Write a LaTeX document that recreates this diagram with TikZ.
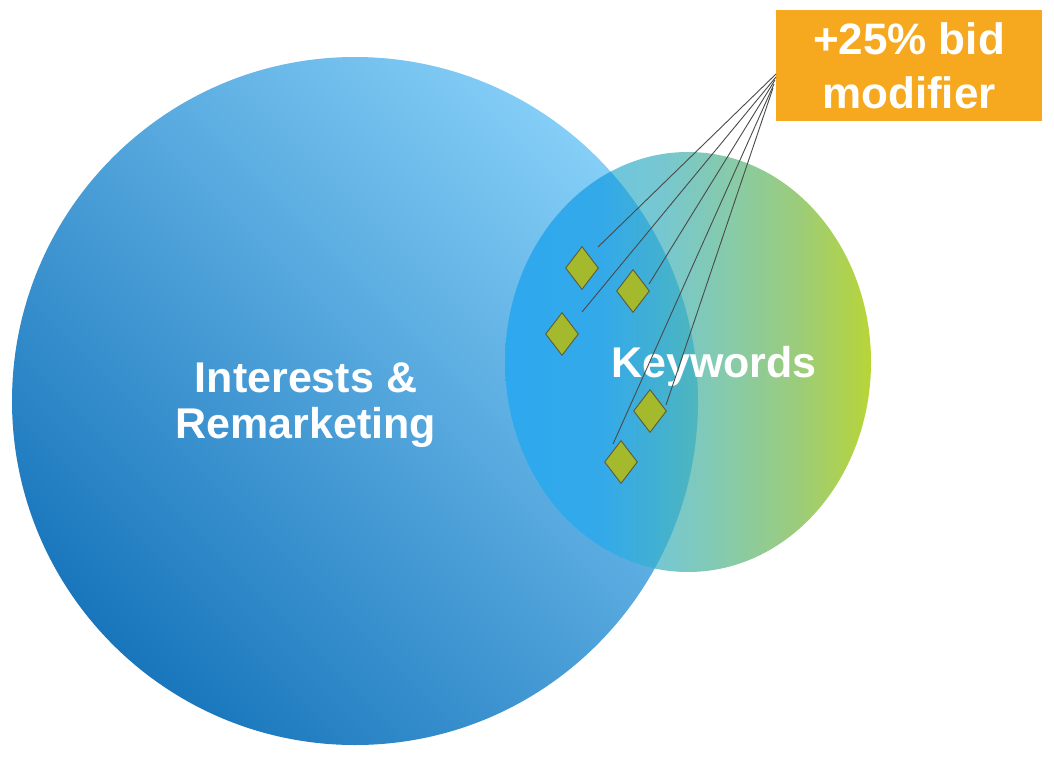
\documentclass[tikz,border=0pt]{standalone}
\usepackage{fontspec}
\setmainfont{Liberation Sans}
\usetikzlibrary{shapes.geometric}
\definecolor{bigdark}{HTML}{1976BC}
\definecolor{biglight}{HTML}{84CEF7}
\definecolor{kwa}{HTML}{70C6DC}
\definecolor{kwb}{HTML}{76C7D2}
\definecolor{kwc}{HTML}{80C9BA}
\definecolor{kwd}{HTML}{88CBA8}
\definecolor{kwe}{HTML}{9CCC7A}
\definecolor{kwf}{HTML}{B2D346}
\definecolor{kwg}{HTML}{B8D535}
\definecolor{ova}{HTML}{2EA8EE}
\definecolor{ovb}{HTML}{33A9EA}
\definecolor{ovc}{HTML}{42B0D2}
\definecolor{ovd}{HTML}{4EB6BE}
\definecolor{boxorange}{HTML}{F6A81F}
\definecolor{gem}{HTML}{A4B92C}
\definecolor{gemline}{HTML}{5B5B3B}
\definecolor{leader}{HTML}{4A4A4A}
\pgfdeclarehorizontalshading{kwshade}{100bp}{color(0bp)=(kwa); color(40bp)=(kwa); color(46bp)=(kwb); color(52bp)=(kwc); color(56bp)=(kwd); color(65bp)=(kwe); color(73bp)=(kwf); color(75bp)=(kwg); color(100bp)=(kwg)}
\pgfdeclarehorizontalshading{ovshade}{100bp}{color(0bp)=(ova); color(25bp)=(ova); color(38bp)=(ovb); color(46bp)=(ovc); color(51bp)=(ovd); color(100bp)=(ovd)}
\tikzset{
  labeltext/.style={text=white, font=\bfseries\fontsize{43}{46}\selectfont, align=center, inner sep=0pt},
  gemstone/.style={shape=diamond, draw=gemline, line width=0.9pt, fill=gem, inner sep=0pt, minimum width=33pt, minimum height=43pt},
  leaderline/.style={draw=leader, line width=0.9pt},
  bidbox/.style={fill=boxorange, text=white, font=\bfseries\fontsize{44}{54}\selectfont, align=center, minimum width=266pt, minimum height=111pt, inner sep=0pt}
}
\begin{document}
\begin{tikzpicture}[x=1pt,y=-1pt]
\useasboundingbox (0,0) rectangle (1054,758);
% big circle
\shade[top color=biglight, bottom color=bigdark, shading angle=-45] (355,401) ellipse [x radius=343pt, y radius=344pt];
% keywords ellipse
\shade[shading=kwshade] (688,362) ellipse [x radius=183pt, y radius=210pt];
% overlap region
\begin{scope}
  \clip (355,401) ellipse [x radius=343pt, y radius=344pt];
  \shade[shading=ovshade] (688,362) ellipse [x radius=183pt, y radius=210pt];
\end{scope}
% labels
\node[labeltext] (interests) at (306,405) {Interests \&\\Remarketing};
\node[labeltext, anchor=base] (keywords) at (714,377) {Keywords};
% box
\node[bidbox] (box) at (909,65.5) {+25\% bid\\modifier};
% leader coordinates
\coordinate (s1) at (776,74);
\coordinate (s2) at (776,77);
\coordinate (s3) at (775,80);
\coordinate (s4) at (774,84);
\coordinate (s5) at (773,88);
\coordinate (e1) at (598,247);
\coordinate (e2) at (582,312);
\coordinate (e3) at (649,284);
\coordinate (e4) at (613,444);
\coordinate (e5) at (666,405);
\draw[leaderline] (s1) -- (e1);
\draw[leaderline] (s2) -- (e2);
\draw[leaderline] (s3) -- (e3);
\draw[leaderline] (s4) -- (e4);
\draw[leaderline] (s5) -- (e5);
% diamonds
\node[gemstone] (d1) at (582,268) {};
\node[gemstone] (d2) at (633,291) {};
\node[gemstone] (d3) at (562,334) {};
\node[gemstone] (d4) at (650,411) {};
\node[gemstone] (d5) at (621,462) {};
\end{tikzpicture}
\end{document}
